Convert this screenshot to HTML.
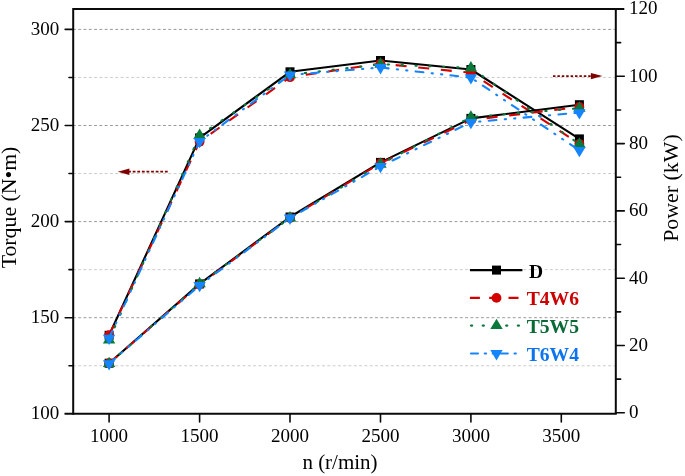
<!DOCTYPE html>
<html><head><meta charset="utf-8"><title>chart</title>
<style>
html,body{margin:0;padding:0;background:#fff;}
body{width:685px;height:476px;overflow:hidden;}
svg{display:block;will-change:transform;}
text{font-family:"Liberation Serif",serif;fill:#000;}
</style></head><body>
<svg width="685" height="476" viewBox="0 0 685 476">
<rect x="0" y="0" width="685" height="476" fill="#ffffff"/>

<line x1="72.9" y1="29.40" x2="614.8" y2="29.40" stroke="#9a9a9a" stroke-width="1" stroke-dasharray="2.9 2.4"/>
<line x1="72.9" y1="77.45" x2="614.8" y2="77.45" stroke="#cbcbcb" stroke-width="1" stroke-dasharray="2.9 2.4"/>
<line x1="72.9" y1="125.50" x2="614.8" y2="125.50" stroke="#9a9a9a" stroke-width="1" stroke-dasharray="2.9 2.4"/>
<line x1="72.9" y1="173.55" x2="614.8" y2="173.55" stroke="#cbcbcb" stroke-width="1" stroke-dasharray="2.9 2.4"/>
<line x1="72.9" y1="221.60" x2="614.8" y2="221.60" stroke="#9a9a9a" stroke-width="1" stroke-dasharray="2.9 2.4"/>
<line x1="72.9" y1="269.65" x2="614.8" y2="269.65" stroke="#cbcbcb" stroke-width="1" stroke-dasharray="2.9 2.4"/>
<line x1="72.9" y1="317.70" x2="614.8" y2="317.70" stroke="#9a9a9a" stroke-width="1" stroke-dasharray="2.9 2.4"/>
<line x1="72.9" y1="365.75" x2="614.8" y2="365.75" stroke="#cbcbcb" stroke-width="1" stroke-dasharray="2.9 2.4"/>
<g stroke="#0a0a0a" stroke-width="2" fill="none">
<path d="M73.2,414.8 L73.2,9.0 L624.3,9.0"/>
<path d="M64.5,413.8 L616.8,413.8"/>
<path d="M615.8,9.0 L615.8,413.8"/>
</g><g stroke="#0a0a0a" stroke-width="1.6" fill="none" stroke-linecap="round">
<line x1="65.2" y1="29.40" x2="73.2" y2="29.40"/>
<line x1="65.2" y1="125.50" x2="73.2" y2="125.50"/>
<line x1="65.2" y1="221.60" x2="73.2" y2="221.60"/>
<line x1="65.2" y1="317.70" x2="73.2" y2="317.70"/>
<line x1="69.0" y1="77.45" x2="73.2" y2="77.45"/>
<line x1="69.0" y1="173.55" x2="73.2" y2="173.55"/>
<line x1="69.0" y1="269.65" x2="73.2" y2="269.65"/>
<line x1="69.0" y1="365.75" x2="73.2" y2="365.75"/>
<line x1="615.8" y1="76.30" x2="624.3" y2="76.30"/>
<line x1="615.8" y1="143.60" x2="624.3" y2="143.60"/>
<line x1="615.8" y1="210.90" x2="624.3" y2="210.90"/>
<line x1="615.8" y1="278.20" x2="624.3" y2="278.20"/>
<line x1="615.8" y1="345.50" x2="624.3" y2="345.50"/>
<line x1="615.8" y1="412.80" x2="624.3" y2="412.80"/>
<line x1="615.8" y1="42.65" x2="620.5999999999999" y2="42.65"/>
<line x1="615.8" y1="109.95" x2="620.5999999999999" y2="109.95"/>
<line x1="615.8" y1="177.25" x2="620.5999999999999" y2="177.25"/>
<line x1="615.8" y1="244.55" x2="620.5999999999999" y2="244.55"/>
<line x1="615.8" y1="311.85" x2="620.5999999999999" y2="311.85"/>
<line x1="615.8" y1="379.15" x2="620.5999999999999" y2="379.15"/>
<line x1="109.1" y1="413.8" x2="109.1" y2="422.0"/>
<line x1="199.6" y1="413.8" x2="199.6" y2="422.0"/>
<line x1="290.0" y1="413.8" x2="290.0" y2="422.0"/>
<line x1="380.5" y1="413.8" x2="380.5" y2="422.0"/>
<line x1="470.9" y1="413.8" x2="470.9" y2="422.0"/>
<line x1="561.3" y1="413.8" x2="561.3" y2="422.0"/>
</g>
<text x="59.2" y="34.90" font-size="19" text-anchor="end">300</text>
<text x="59.2" y="131.00" font-size="19" text-anchor="end">250</text>
<text x="59.2" y="227.10" font-size="19" text-anchor="end">200</text>
<text x="59.2" y="323.20" font-size="19" text-anchor="end">150</text>
<text x="59.2" y="419.30" font-size="19" text-anchor="end">100</text>
<text x="629.1" y="14.45" font-size="19">120</text>
<text x="629.1" y="81.75" font-size="19">100</text>
<text x="629.1" y="149.05" font-size="19">80</text>
<text x="629.1" y="216.35" font-size="19">60</text>
<text x="629.1" y="283.65" font-size="19">40</text>
<text x="629.1" y="350.95" font-size="19">20</text>
<text x="629.1" y="418.25" font-size="19">0</text>
<text x="109.1" y="442" font-size="19" text-anchor="middle">1000</text>
<text x="199.6" y="442" font-size="19" text-anchor="middle">1500</text>
<text x="290.0" y="442" font-size="19" text-anchor="middle">2000</text>
<text x="380.5" y="442" font-size="19" text-anchor="middle">2500</text>
<text x="470.9" y="442" font-size="19" text-anchor="middle">3000</text>
<text x="561.3" y="442" font-size="19" text-anchor="middle">3500</text>
<text x="340" y="469" font-size="21" text-anchor="middle">n (r/min)</text>
<text transform="translate(16.4,207.5) rotate(-90)" font-size="21.8" text-anchor="middle">Torque (N•m)</text>
<text transform="translate(678.4,188.05) rotate(-90)" font-size="21.9" text-anchor="middle">Power (kW)</text>
<g stroke="#800000" stroke-width="1.7" fill="#800000">
<line x1="167.7" y1="171.7" x2="129" y2="171.7" stroke-dasharray="2.8 1.8"/>
<polygon points="117.8,171.7 129.4,168.5 129.4,174.9" stroke="none"/>
<line x1="553" y1="76.1" x2="591" y2="76.1" stroke-dasharray="2.5 1.9"/>
<polygon points="602.4,76.1 590.9,72.9 590.9,79.3" stroke="none"/>
</g>
<polyline points="109.10,335.30 199.60,137.90 290.00,71.80 380.50,60.50 470.90,69.50 579.40,138.90" fill="none" stroke="#000000" stroke-width="2.1" stroke-linejoin="round" stroke-linecap="butt"/>
<rect x="104.60" y="330.80" width="9" height="9" fill="#000000"/>
<rect x="195.10" y="133.40" width="9" height="9" fill="#000000"/>
<rect x="285.50" y="67.30" width="9" height="9" fill="#000000"/>
<rect x="376.00" y="56.00" width="9" height="9" fill="#000000"/>
<rect x="466.40" y="65.00" width="9" height="9" fill="#000000"/>
<rect x="574.90" y="134.40" width="9" height="9" fill="#000000"/>
<polyline points="109.10,335.10 199.60,141.80 290.00,77.20 380.50,63.60 470.90,72.80 579.40,143.80" fill="none" stroke="#d40000" stroke-width="2.1" stroke-linejoin="round" stroke-linecap="butt" stroke-dasharray="11 11.7"/>
<circle cx="109.10" cy="335.10" r="4.9" fill="#d40000"/>
<circle cx="199.60" cy="141.80" r="4.9" fill="#d40000"/>
<circle cx="290.00" cy="77.20" r="4.9" fill="#d40000"/>
<circle cx="380.50" cy="63.60" r="4.9" fill="#d40000"/>
<circle cx="470.90" cy="72.80" r="4.9" fill="#d40000"/>
<circle cx="579.40" cy="143.80" r="4.9" fill="#d40000"/>
<polyline points="109.10,340.00 199.60,135.30 290.00,74.80 380.50,64.20 470.90,67.90 579.40,144.10" fill="none" stroke="#0a7a3c" stroke-width="2.1" stroke-linejoin="round" stroke-linecap="round" stroke-dasharray="1.3 12.6"/>
<polygon points="109.10,333.10 102.90,343.50 115.30,343.50" fill="#0a7a3c"/>
<polygon points="199.60,128.40 193.40,138.80 205.80,138.80" fill="#0a7a3c"/>
<polygon points="290.00,67.90 283.80,78.30 296.20,78.30" fill="#0a7a3c"/>
<polygon points="380.50,57.30 374.30,67.70 386.70,67.70" fill="#0a7a3c"/>
<polygon points="470.90,61.00 464.70,71.40 477.10,71.40" fill="#0a7a3c"/>
<polygon points="579.40,137.20 573.20,147.60 585.60,147.60" fill="#0a7a3c"/>
<polyline points="109.10,338.20 199.60,141.40 290.00,74.90 380.50,67.50 470.90,77.60 579.40,150.40" fill="none" stroke="#1585ff" stroke-width="2.1" stroke-linejoin="round" stroke-linecap="round" stroke-dasharray="7.8 8.3 1.2 8.2 1.2 8.3"/>
<polygon points="109.10,345.10 102.90,334.80 115.30,334.80" fill="#1585ff"/>
<polygon points="199.60,148.30 193.40,138.00 205.80,138.00" fill="#1585ff"/>
<polygon points="290.00,81.80 283.80,71.50 296.20,71.50" fill="#1585ff"/>
<polygon points="380.50,74.40 374.30,64.10 386.70,64.10" fill="#1585ff"/>
<polygon points="470.90,84.50 464.70,74.20 477.10,74.20" fill="#1585ff"/>
<polygon points="579.40,157.30 573.20,147.00 585.60,147.00" fill="#1585ff"/>
<polyline points="109.10,363.20 199.60,283.90 290.00,217.00 380.50,162.40 470.90,118.40 579.40,104.70" fill="none" stroke="#000000" stroke-width="2.1" stroke-linejoin="round" stroke-linecap="butt"/>
<rect x="104.60" y="358.70" width="9" height="9" fill="#000000"/>
<rect x="195.10" y="279.40" width="9" height="9" fill="#000000"/>
<rect x="285.50" y="212.50" width="9" height="9" fill="#000000"/>
<rect x="376.00" y="157.90" width="9" height="9" fill="#000000"/>
<rect x="466.40" y="113.90" width="9" height="9" fill="#000000"/>
<rect x="574.90" y="100.20" width="9" height="9" fill="#000000"/>
<polyline points="109.10,363.20 199.60,284.60 290.00,218.00 380.50,163.20 470.90,120.00 579.40,107.00" fill="none" stroke="#d40000" stroke-width="2.1" stroke-linejoin="round" stroke-linecap="butt" stroke-dasharray="11 11.7"/>
<circle cx="109.10" cy="363.20" r="4.9" fill="#d40000"/>
<circle cx="199.60" cy="284.60" r="4.9" fill="#d40000"/>
<circle cx="290.00" cy="218.00" r="4.9" fill="#d40000"/>
<circle cx="380.50" cy="163.20" r="4.9" fill="#d40000"/>
<circle cx="470.90" cy="120.00" r="4.9" fill="#d40000"/>
<circle cx="579.40" cy="107.00" r="4.9" fill="#d40000"/>
<polyline points="109.10,363.60 199.60,283.70 290.00,217.90 380.50,164.20 470.90,117.10 579.40,108.20" fill="none" stroke="#0a7a3c" stroke-width="2.1" stroke-linejoin="round" stroke-linecap="round" stroke-dasharray="1.3 12.6"/>
<polygon points="109.10,356.70 102.90,367.10 115.30,367.10" fill="#0a7a3c"/>
<polygon points="199.60,276.80 193.40,287.20 205.80,287.20" fill="#0a7a3c"/>
<polygon points="290.00,211.00 283.80,221.40 296.20,221.40" fill="#0a7a3c"/>
<polygon points="380.50,157.30 374.30,167.70 386.70,167.70" fill="#0a7a3c"/>
<polygon points="470.90,110.20 464.70,120.60 477.10,120.60" fill="#0a7a3c"/>
<polygon points="579.40,101.30 573.20,111.70 585.60,111.70" fill="#0a7a3c"/>
<polyline points="109.10,363.60 199.60,285.40 290.00,218.00 380.50,166.40 470.90,122.30 579.40,112.60" fill="none" stroke="#1585ff" stroke-width="2.1" stroke-linejoin="round" stroke-linecap="round" stroke-dasharray="7.8 8.3 1.2 8.2 1.2 8.3"/>
<polygon points="109.10,370.50 102.90,360.20 115.30,360.20" fill="#1585ff"/>
<polygon points="199.60,292.30 193.40,282.00 205.80,282.00" fill="#1585ff"/>
<polygon points="290.00,224.90 283.80,214.60 296.20,214.60" fill="#1585ff"/>
<polygon points="380.50,173.30 374.30,163.00 386.70,163.00" fill="#1585ff"/>
<polygon points="470.90,129.20 464.70,118.90 477.10,118.90" fill="#1585ff"/>
<polygon points="579.40,119.50 573.20,109.20 585.60,109.20" fill="#1585ff"/>
<line x1="469.9" y1="270.1" x2="522.4" y2="270.1" stroke="#000000" stroke-width="2.1" stroke-linecap="butt"/>
<rect x="492.00" y="265.60" width="9" height="9" fill="#000000"/>
<text x="528.9" y="277.60" font-size="19.6" font-weight="bold" style="fill:#000000">D</text>
<line x1="469.9" y1="297.9" x2="522.4" y2="297.9" stroke="#d40000" stroke-width="2.1" stroke-linecap="butt" stroke-dasharray="10 9.3"/>
<circle cx="496.50" cy="297.90" r="4.9" fill="#d40000"/>
<text x="526.7" y="305.40" font-size="19.6" font-weight="bold" style="fill:#cc0000">T4W6</text>
<line x1="471.0" y1="325.6" x2="522.4" y2="325.6" stroke="#0a7a3c" stroke-width="2.1" stroke-linecap="round" stroke-dasharray="1.2 10.5"/>
<polygon points="496.50,318.70 490.30,329.10 502.70,329.10" fill="#0a7a3c"/>
<text x="526.7" y="333.10" font-size="19.6" font-weight="bold" style="fill:#086a36">T5W5</text>
<line x1="471.0" y1="353.5" x2="522.4" y2="353.5" stroke="#1585ff" stroke-width="2.1" stroke-linecap="round" stroke-dasharray="7 6.7 1.4 6.6 1.4 6.7"/>
<polygon points="496.50,360.40 490.30,350.10 502.70,350.10" fill="#1585ff"/>
<text x="526.7" y="361.00" font-size="19.6" font-weight="bold" style="fill:#0e74ee">T6W4</text>
</svg></body></html>
